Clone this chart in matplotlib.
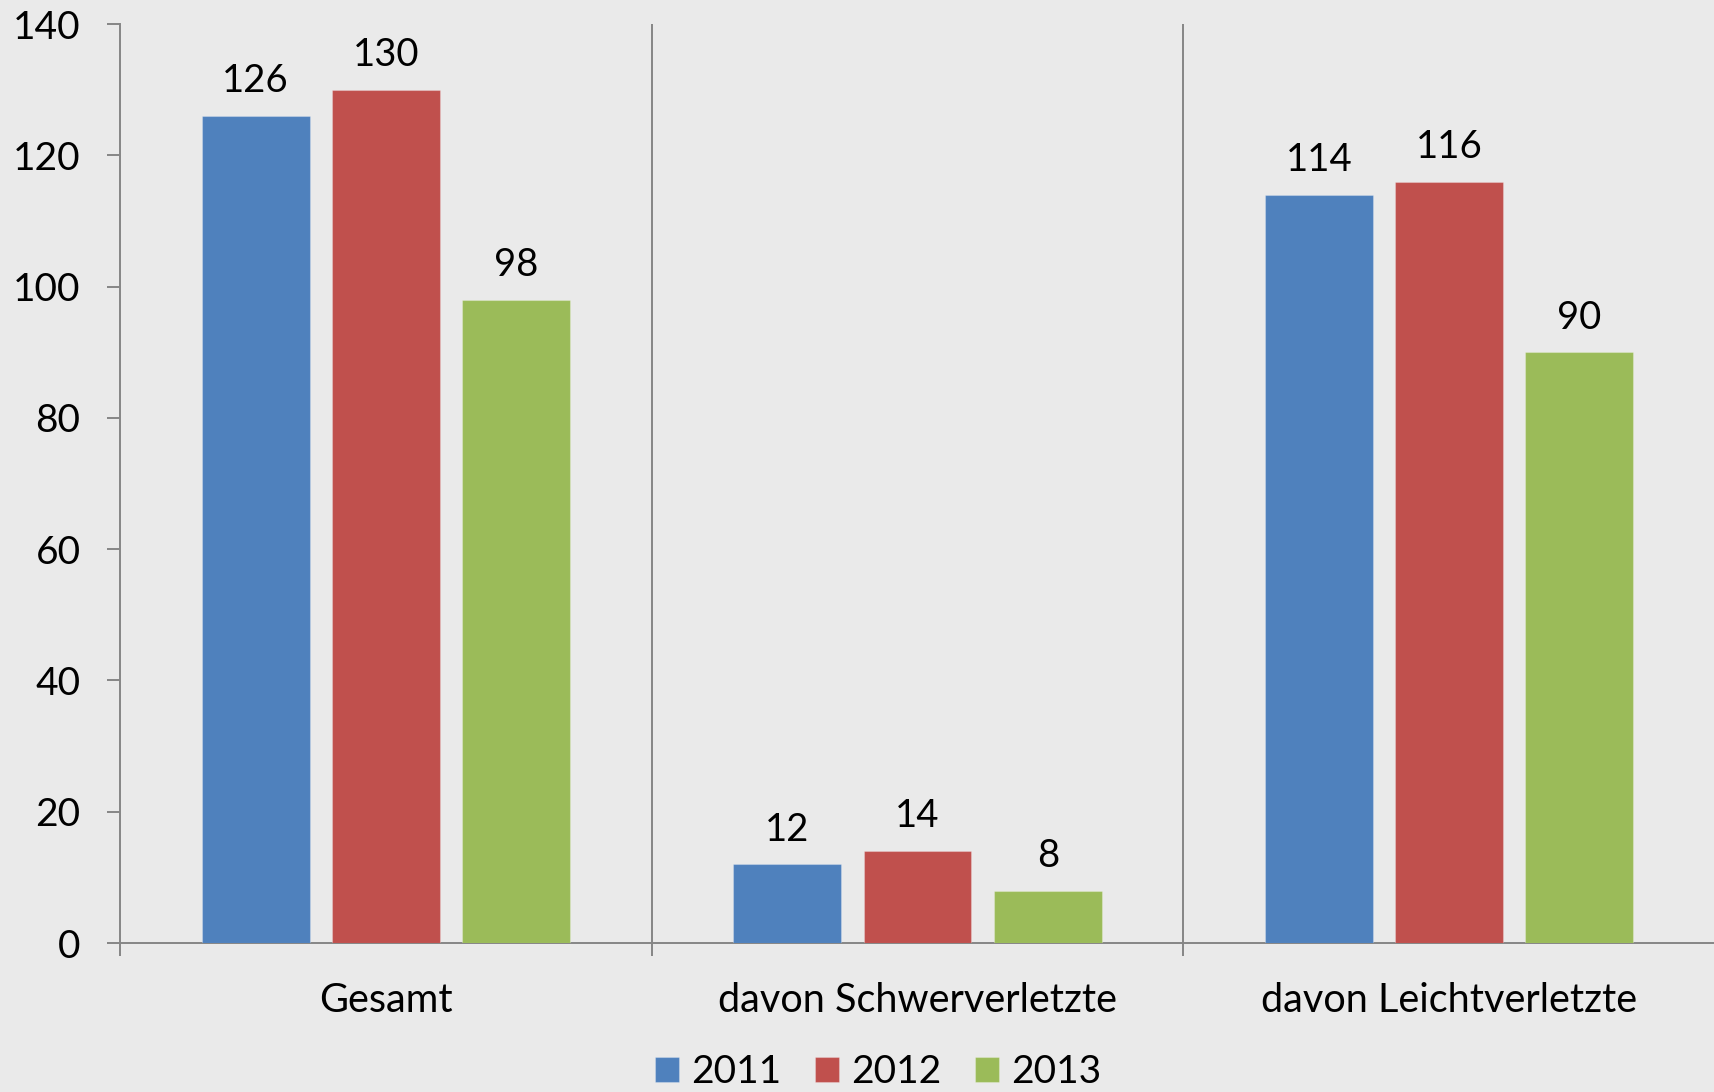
import matplotlib.pyplot as plt
import numpy as np

# Data
categories = ["Gesamt", "davon Schwerverletzte", "davon Leichtverletzte"]
years = ["2011", "2012", "2013"]
values_2011 = [126, 12, 114]
values_2012 = [130, 14, 116]
values_2013 = [98, 8, 90]
colors = ["#4F81BD", "#C0504D", "#9BBB59"]

plt.rcParams['font.family'] = ['Lato', 'DejaVu Sans']

bg = "#EAEAEA"
axis_gray = "#868686"

fig = plt.figure(figsize=(17.15, 10.92), dpi=100, facecolor=bg)
ax = fig.add_axes([0.07, 0.1364, 0.93, 0.8416], facecolor=bg)

x = np.arange(len(categories)) + 0.5
width = 0.203
step = 0.245
series = [values_2011, values_2012, values_2013]

for i, (vals, year, col) in enumerate(zip(series, years, colors)):
    pos = x + (i - 1) * step
    bars = ax.bar(pos, vals, width, color=col, label=year,
                  edgecolor="#ffffff40", linewidth=0.8, zorder=3)
    for b, v in zip(bars, vals):
        ax.annotate(str(v), (b.get_x() + b.get_width() / 2, v),
                    xytext=(0, 12), textcoords="offset points",
                    ha="center", va="bottom", fontsize=27.5, color="black")

ax.set_xlim(0, 3)
ax.set_ylim(0, 140)
ax.set_yticks(range(0, 141, 20))

# category separators
for sep in [1, 2]:
    ax.axvline(sep, color=axis_gray, linewidth=1.4, zorder=1)

ax.set_xticks([0, 1, 2, 3])
ax.set_xticklabels([])
ax.set_xticks(x, minor=True)
ax.set_xticklabels(categories, minor=True)
ax.tick_params(axis="x", which="major", length=9.4, width=1.4,
               color=axis_gray, direction="out")
ax.tick_params(axis="x", which="minor", length=0, pad=28, labelsize=28.5)
ax.tick_params(axis="y", length=9.4, width=1.4, color=axis_gray,
               pad=19, labelsize=28)

for side in ["top", "right"]:
    ax.spines[side].set_visible(False)
for side in ["left", "bottom"]:
    ax.spines[side].set_color(axis_gray)
    ax.spines[side].set_linewidth(1.4)

leg = fig.legend(loc="center", bbox_to_anchor=(0.512, 0.018), ncol=3,
                 frameon=False, fontsize=28, handlelength=0.62, handleheight=0.62,
                 handletextpad=0.3, columnspacing=0.87)

fig.savefig("out.png", dpi=100, facecolor=bg)
